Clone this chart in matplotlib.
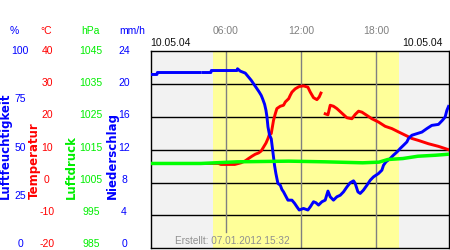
import numpy as np
import matplotlib
matplotlib.use('Agg')
import matplotlib.pyplot as plt
from matplotlib.transforms import blended_transform_factory

plt.rcParams['font.family'] = ['Liberation Sans', 'DejaVu Sans']

nan = np.nan

# Luftfeuchtigkeit (%)
hum_t = [0.0, 0.5, 0.53, 3.95, 4.05, 4.2, 4.8, 4.83, 6.88, 6.92, 7.14, 7.54, 7.8,
         8.02, 8.2, 8.47, 8.65, 8.81, 8.92, 9.08, 9.19, 9.27, 9.35, 9.47, 9.61,
         9.79, 9.87, 9.98, 10.14, 10.33, 10.46, 10.59, 10.73, 10.94, 11.26, 11.47,
         11.66, 11.84, 12.18, 12.53, 12.72, 12.98, 13.17, 13.38, 13.65, 13.91,
         14.13, 14.31, 14.57, 14.84, 15.11, 15.37, 15.64, 15.90, 16.17, 16.30,
         16.52, 16.70, 16.96, 17.24, 17.50, 17.76, 18.16, 18.43, 18.56, 18.75,
         19.09, 19.35, 19.63, 19.89, 20.15, 20.42, 20.55, 20.82, 21.22, 21.62,
         22.02, 22.41, 22.94, 23.26, 23.47, 23.61, 23.74]
hum_v = [88.1, 88.1, 89.1, 89.1, nan, 89.1, 89.1, 90.1, 90.1, 91.0, 89.8, 88.8, 86.8,
         85.1, 83.4, 80.9, 79.2, 77.5, 75.8, 73.0, 69.9, 66.5, 61.5, 57.5, 55.5,
         46.3, 42.1, 37.9, 32.9, 32.0, 29.8, 28.6, 26.9, 24.4, 24.4, 22.8,
         21.0, 19.4, 20.2, 19.4, 21.0, 23.6, 23.1, 21.9, 23.6, 24.4,
         29.0, 26.1, 24.4, 26.1, 26.9, 28.6, 31.1, 33.2, 34.2, 32.9,
         28.6, 27.8, 29.5, 32.0, 34.5, 36.2, 37.9, 39.6, 42.1, 43.8,
         45.5, 47.2, 48.8, 50.6, 52.2, 53.9, 55.6, 57.3, 58.1, 58.9,
         60.7, 62.3, 62.8, 64.9, 66.5, 69.9, 71.9]

# Temperatur (°C)
temp_t = [0.0, 5.4, 5.6, 6.7, 7.2, 7.54, 7.8, 8.07, 8.33, 8.6, 8.81, 9.0, 9.19,
          9.35, 9.47, 9.61, 9.79, 9.93, 10.06, 10.33, 10.59, 10.73, 11.0, 11.12,
          11.26, 11.52, 11.84, 12.18, 12.53, 12.72, 12.98, 13.25, 13.43, 13.57,
          13.75, 13.91, 14.13, 14.31, 14.57, 14.84, 15.24, 15.64, 16.04, 16.30,
          16.57, 16.84, 17.24, 17.63, 18.16, 18.69, 19.23, 19.75, 20.29, 20.82,
          21.35, 22.14, 22.94, 23.74]
temp_v = [5.8, 5.8, 5.5, 5.5, 6.0, 6.6, 7.3, 8.0, 8.6, 9.0, 9.6, 10.8, 12.0,
          13.4, 14.7, 14.9, 18.9, 20.9, 22.5, 23.2, 23.5, 24.5, 25.5, 26.5,
          27.5, 28.5, 29.2, 29.4, 29.0, 27.5, 25.8, 25.2, 26.0, 27.2,
          nan, 20.9, 20.6, 23.5, 23.2, 22.5, 21.1, 19.7, 19.4, 20.7,
          21.7, 21.4, 20.4, 19.4, 18.4, 17.1, 16.4, 15.4, 14.4, 13.4,
          12.8, 11.8, 11.0, 10.0]

# Luftdruck (hPa)
pres_t = [0.0, 4.0, 6.9, 11.0, 13.9, 16.9, 18.2, 18.9, 20.1, 21.3, 22.7, 23.7]
pres_v = [1010.8, 1010.8, 1011.3, 1011.5, 1011.3, 1011.0, 1011.2, 1012.0,
          1012.3, 1013.0, 1013.3, 1013.6]

hum_ticks = [100, 75, 50, 25, 0]
temp_ticks = [40, 30, 20, 10, 0, -10, -20]
pres_ticks = [1045, 1035, 1025, 1015, 1005, 995, 985]
rain_ticks = [24, 20, 16, 12, 8, 4, 0]
time_ticks = [6, 12, 18]
time_labels = ['06:00', '12:00', '18:00']
sunrise, sunset = 4.93, 19.81

BLUE = '#0000ff'
RED = '#ff0000'
GREEN = '#00ee00'

fig = plt.figure(figsize=(4.5, 2.5), dpi=100)
ax = fig.add_axes([150.7 / 450, 1 - 248.3 / 250, (449 - 150.7) / 450, 197.3 / 250])
ax.set_facecolor('#f2f2f2')
ax.set_xlim(0, 23.78)
ax.set_ylim(-20, 40)
ax.axvspan(sunrise, sunset, color='#ffff99', lw=0, zorder=0)
for v in temp_ticks[1:-1]:
    ax.axhline(v, color='black', lw=1.0, zorder=1)
for t in time_ticks:
    # the 06:00 line stops above the "Erstellt" note
    ax.axvline(t, color='#808080', lw=1.0, zorder=1, ymin=0.084 if t == 6 else 0)
ax.set_xticks([])
ax.set_yticks([])
for s in ax.spines.values():
    s.set_color('black')
    s.set_linewidth(1.0)

ax.plot(temp_t, temp_v, color=RED, lw=2.1, zorder=3)

ax_h = ax.twinx()
ax_h.set_ylim(0, 100)
ax_h.plot(hum_t, hum_v, color=BLUE, lw=2.1, zorder=3)

ax_p = ax.twinx()
ax_p.set_ylim(985, 1045)
ax_p.plot(pres_t, pres_v, color='#00ff00', lw=2.5, zorder=3)

for a in (ax_h, ax_p):
    a.set_xlim(0, 23.78)
    a.axis('off')

# left scale columns
tr = blended_transform_factory(fig.transFigure, ax.transAxes)
fs = 7.5


def col(x, ticks, color, lo, hi):
    for v in ticks:
        frac = (v - lo) / (hi - lo)
        fig.text(x / 450, 0.02 + frac * 0.98, str(v), color=color, fontsize=fs,
                 ha='center', va='center', transform=tr)


col(20, hum_ticks, BLUE, 0, 100)
col(47, temp_ticks, RED, -20, 40)
col(91, pres_ticks, GREEN, 985, 1045)
col(124, rain_ticks, BLUE, 0, 24)

hy = 1 - 30.5 / 250
fig.text(14 / 450, hy, '%', color=BLUE, fontsize=fs, ha='center', va='center')
fig.text(46 / 450, hy, '°C', color=RED, fontsize=fs, ha='center', va='center')
fig.text(90 / 450, hy, 'hPa', color=GREEN, fontsize=fs, ha='center', va='center')
fig.text(132 / 450, hy, 'mm/h', color=BLUE, fontsize=fs, ha='center', va='center')

by = 1 - 199 / 250
vlab = dict(fontsize=8.5, fontweight='bold', rotation=90, ha='center', va='bottom',
            family='DejaVu Sans')
fig.text(5.5 / 450, by, 'Luftfeuchtigkeit', color=BLUE, **vlab)
fig.text(34.5 / 450, by, 'Temperatur', color=RED, **vlab)
fig.text(71 / 450, by, 'Luftdruck', color=GREEN, **vlab)
fig.text(112.5 / 450, by, 'Niederschlag', color=BLUE, **vlab)

# time labels on top
trx = blended_transform_factory(ax.transData, fig.transFigure)
for t, lab in zip(time_ticks, time_labels):
    fig.text(t, 1 - 30.5 / 250, lab, color='#808080', fontsize=fs,
             ha='center', va='center', transform=trx)

fig.text(150.5 / 450, 1 - 43.5 / 250, '10.05.04', color='#111111', fontsize=fs,
         ha='left', va='center')
fig.text(443 / 450, 1 - 43.5 / 250, '10.05.04', color='#111111', fontsize=fs,
         ha='right', va='center')

fig.text(175 / 450, 1 - 240.5 / 250, 'Erstellt: 07.01.2012 15:32', color='#909090',
         fontsize=7.2, ha='left', va='center')

fig.savefig('out.png', dpi=100)
